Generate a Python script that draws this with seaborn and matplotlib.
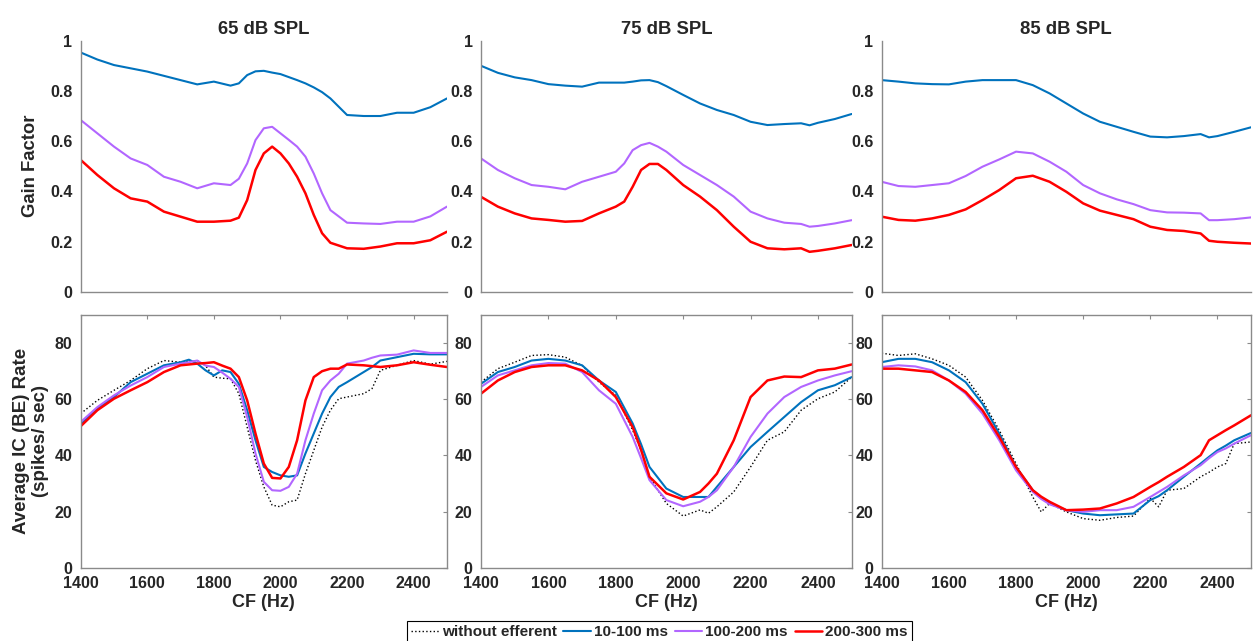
import matplotlib
matplotlib.use("Agg")
import matplotlib.pyplot as plt
from matplotlib.ticker import FuncFormatter
import seaborn as sns
import pandas as pd

# ---------------- data ----------------
series_labels = ["without efferent", "10-100 ms", "100-200 ms", "200-300 ms"]
levels = ["65 dB SPL", "75 dB SPL", "85 dB SPL"]

# Gain factor (top row)
cf_gain_65 = [1400, 1450, 1500, 1550, 1600, 1650, 1700, 1750, 1800, 1850, 1875, 1900, 1925,
              1950, 1975, 2000, 2025, 2050, 2075, 2100, 2125, 2150, 2200, 2250, 2300, 2350,
              2400, 2450, 2500]
gain_65_short = [0.953, 0.925, 0.903, 0.89, 0.877, 0.86, 0.843, 0.826, 0.837, 0.821, 0.83, 0.863,
                 0.878, 0.880, 0.873, 0.867, 0.855, 0.843, 0.83, 0.814, 0.795, 0.770, 0.704,
                 0.700, 0.700, 0.713, 0.713, 0.735, 0.77]
gain_65_mid = [0.684, 0.631, 0.578, 0.531, 0.505, 0.458, 0.438, 0.412, 0.432, 0.425, 0.45, 0.511,
               0.604, 0.651, 0.657, 0.631, 0.605, 0.578, 0.538, 0.471, 0.392, 0.325, 0.275,
               0.272, 0.270, 0.279, 0.279, 0.30, 0.339]
gain_65_long = [0.525, 0.465, 0.412, 0.372, 0.359, 0.319, 0.299, 0.279, 0.279, 0.283, 0.295, 0.365,
                0.485, 0.551, 0.578, 0.551, 0.511, 0.458, 0.392, 0.306, 0.233, 0.195, 0.173,
                0.171, 0.180, 0.193, 0.193, 0.205, 0.239]

cf_gain_75 = [1400, 1450, 1500, 1550, 1600, 1650, 1700, 1750, 1800, 1825, 1850, 1875, 1900, 1925,
              1950, 2000, 2050, 2100, 2150, 2200, 2250, 2300, 2350, 2375, 2400, 2450, 2500]
gain_75_short = [0.900, 0.872, 0.854, 0.843, 0.827, 0.821, 0.817, 0.833, 0.833, 0.833, 0.837,
                 0.842, 0.843, 0.835, 0.819, 0.784, 0.750, 0.724, 0.704, 0.677, 0.664, 0.668,
                 0.671, 0.663, 0.673, 0.688, 0.708]
gain_75_mid = [0.531, 0.485, 0.452, 0.425, 0.418, 0.408, 0.438, 0.458, 0.478, 0.511, 0.564, 0.584,
               0.593, 0.578, 0.558, 0.505, 0.465, 0.425, 0.379, 0.319, 0.292, 0.275, 0.270,
               0.259, 0.262, 0.272, 0.285]
gain_75_long = [0.378, 0.339, 0.312, 0.292, 0.286, 0.279, 0.282, 0.312, 0.339, 0.359, 0.418, 0.485,
                0.509, 0.509, 0.485, 0.425, 0.379, 0.325, 0.259, 0.199, 0.173, 0.169, 0.173,
                0.159, 0.163, 0.173, 0.186]

cf_gain_85 = [1400, 1450, 1500, 1550, 1600, 1650, 1700, 1750, 1800, 1850, 1900, 1950, 2000, 2050,
              2100, 2150, 2200, 2250, 2300, 2350, 2375, 2400, 2450, 2500]
gain_85_short = [0.843, 0.837, 0.830, 0.827, 0.826, 0.837, 0.843, 0.843, 0.843, 0.823, 0.790,
                 0.750, 0.710, 0.677, 0.657, 0.637, 0.618, 0.615, 0.620, 0.628, 0.615, 0.620,
                 0.637, 0.655]
gain_85_mid = [0.438, 0.421, 0.418, 0.425, 0.432, 0.461, 0.498, 0.527, 0.558, 0.551, 0.518, 0.478,
               0.425, 0.392, 0.368, 0.349, 0.325, 0.316, 0.315, 0.312, 0.285, 0.285, 0.289, 0.296]
gain_85_long = [0.299, 0.286, 0.283, 0.292, 0.306, 0.328, 0.365, 0.405, 0.452, 0.462, 0.438,
                0.398, 0.352, 0.323, 0.306, 0.289, 0.259, 0.246, 0.242, 0.232, 0.203, 0.199,
                0.195, 0.192]

# Average IC (BE) rate (bottom row), spikes/sec
cf_rate_65 = [1400, 1450, 1500, 1550, 1600, 1650, 1700, 1725, 1750, 1775, 1800, 1825, 1850, 1875,
              1900, 1925, 1950, 1975, 2000, 2025, 2050, 2075, 2100, 2125, 2150, 2175, 2200, 2250,
              2275, 2300, 2350, 2400, 2450, 2500]
rate_65_none = [54.9, 59.6, 63.2, 66.7, 70.9, 73.8, 73.2, 73.5, 73.8, 72.0, 67.9, 67.5, 67.3, 62.0,
                50.1, 38.2, 28.8, 22.3, 21.7, 23.5, 24.1, 33.5, 41.8, 50.1, 56.1, 60.2, 60.8, 62.0,
                63.8, 70.3, 72.1, 73.8, 72.5, 73.5]
rate_65_short = [51.3, 56.7, 60.8, 66.1, 69.1, 72.1, 73.2, 74.1, 72.7, 70.3, 68.5, 70.3, 69.7, 65.5,
                 56.1, 45.4, 35.9, 34.1, 32.9, 32.4, 32.9, 40.7, 47.8, 54.9, 60.8, 64.4, 66.1,
                 69.7, 71.5, 73.8, 75.0, 76.2, 76.0, 76.0]
rate_65_mid = [51.9, 57.2, 61.4, 64.9, 67.9, 71.5, 72.7, 73.2, 73.8, 72.0, 71.5, 69.5, 67.3, 64.4,
               53.7, 40.7, 30.6, 27.6, 27.4, 28.8, 33.5, 45.4, 54.9, 63.2, 66.7, 69.1, 72.7, 73.8,
               74.8, 75.6, 75.9, 77.4, 76.5, 76.5]
rate_65_long = [50.4, 56.1, 60.2, 63.2, 66.1, 69.7, 72.1, 72.4, 72.7, 72.9, 73.2, 72.0, 70.9, 67.9,
                59.6, 47.8, 37.1, 32.0, 31.8, 35.9, 45.4, 59.6, 67.9, 70.0, 70.9, 70.9, 72.4, 72.1,
                71.8, 71.5, 72.1, 73.2, 72.3, 71.5]

cf_rate_75 = [1400, 1450, 1500, 1550, 1600, 1650, 1700, 1750, 1800, 1850, 1875, 1900, 1950, 2000,
              2050, 2075, 2100, 2150, 2200, 2250, 2300, 2350, 2400, 2450, 2500]
rate_75_none = [66.1, 70.9, 73.2, 75.6, 75.9, 75.0, 72.0, 66.1, 61.4, 49.0, 41.8, 32.4, 22.9, 18.4,
                20.6, 19.4, 21.7, 27.0, 35.9, 45.4, 48.4, 56.1, 60.2, 62.6, 67.9]
rate_75_short = [65.5, 69.7, 71.5, 73.8, 74.4, 73.8, 72.1, 66.7, 62.6, 51.4, 44.0, 35.9, 28.2, 25.2,
                 25.2, 25.2, 28.8, 35.9, 43.0, 48.4, 53.7, 59.0, 63.2, 65.0, 67.9]
rate_75_mid = [64.4, 68.5, 70.3, 72.1, 72.9, 72.7, 69.7, 63.2, 58.4, 46.6, 39.0, 31.2, 24.1, 21.9,
               23.5, 25.2, 27.6, 35.9, 46.6, 54.9, 60.8, 64.4, 66.7, 68.5, 70.0]
rate_75_long = [62.0, 66.7, 69.7, 71.5, 72.1, 72.1, 70.3, 66.7, 60.8, 50.1, 42.0, 32.4, 26.5, 24.3,
                27.0, 30.0, 33.5, 45.4, 60.8, 66.7, 68.1, 67.9, 70.3, 70.9, 72.4]

cf_rate_85 = [1400, 1450, 1500, 1550, 1600, 1650, 1700, 1750, 1800, 1850, 1875, 1900, 1950, 2000,
              2050, 2100, 2150, 2200, 2225, 2250, 2300, 2350, 2375, 2400, 2425, 2450, 2500]
rate_85_none = [76.4, 75.6, 76.2, 74.4, 72.1, 67.9, 59.6, 49.0, 37.1, 25.2, 19.9, 22.9, 19.9, 17.5,
                16.9, 17.9, 18.4, 24.7, 21.7, 27.6, 28.2, 32.4, 34.0, 35.9, 37.1, 44.2, 44.8]
rate_85_short = [73.2, 74.4, 74.4, 73.2, 70.3, 66.1, 58.4, 47.8, 35.9, 27.6, 25.0, 22.9, 20.5, 19.3,
                 18.7, 19.0, 19.3, 24.1, 25.5, 27.6, 32.4, 37.1, 39.5, 41.8, 43.5, 45.4, 48.0]
rate_85_mid = [71.5, 72.1, 71.7, 70.3, 66.7, 62.0, 54.9, 45.4, 34.7, 27.0, 24.5, 22.6, 20.5, 19.9,
               20.5, 20.5, 21.7, 25.2, 27.0, 28.8, 32.9, 36.5, 39.0, 41.2, 42.5, 44.2, 47.2]
rate_85_long = [70.9, 70.9, 70.3, 69.7, 66.7, 62.6, 56.1, 46.6, 35.9, 27.6, 25.3, 23.5, 20.5, 20.7,
                21.1, 22.9, 25.2, 28.8, 30.5, 32.4, 35.9, 40.1, 45.4, 47.2, 49.0, 50.7, 54.3]

xticks = [1400, 1600, 1800, 2000, 2200, 2400]
gain_ticks = [0, 0.2, 0.4, 0.6, 0.8, 1]
rate_ticks = [0, 20, 40, 60, 80]

# ---------------- style ----------------
sns.set_theme(style="white")
plt.rcParams["font.family"] = ["Liberation Sans", "DejaVu Sans"]
plt.rcParams["font.weight"] = "bold"

palette = {
    "without efferent": "#000000",
    "10-100 ms": "#0072BD",
    "100-200 ms": "#B266FF",
    "200-300 ms": "#FF0000",
}
widths = {"without efferent": 1.0, "10-100 ms": 1.5, "100-200 ms": 1.5, "200-300 ms": 1.8}
spine_col = "#8a8a8a"
text_col = "#262626"

fig = plt.figure(figsize=(12.53, 6.41), dpi=100)

lefts = [0.0644, 0.3839, 0.7037]
widths_ax = [0.2923, 0.2958, 0.2947]
top_row = (0.5449, 0.3916)
bot_row = (0.1143, 0.3942)

gain_sets = [
    (cf_gain_65, gain_65_short, gain_65_mid, gain_65_long),
    (cf_gain_75, gain_75_short, gain_75_mid, gain_75_long),
    (cf_gain_85, gain_85_short, gain_85_mid, gain_85_long),
]
rate_sets = [
    (cf_rate_65, rate_65_none, rate_65_short, rate_65_mid, rate_65_long),
    (cf_rate_75, rate_75_none, rate_75_short, rate_75_mid, rate_75_long),
    (cf_rate_85, rate_85_none, rate_85_short, rate_85_mid, rate_85_long),
]


def style_ticks(ax):
    ax.tick_params(axis="both", direction="in", length=3, width=0.8, color=spine_col,
                   labelsize=11.5, labelcolor=text_col, pad=6)
    for lab in ax.get_xticklabels() + ax.get_yticklabels():
        lab.set_fontweight("bold")


bottom_axes = []
for i in range(3):
    # gain factor panel
    cf, g_s, g_m, g_l = gain_sets[i]
    df = pd.DataFrame({
        "CF": cf * 3,
        "gain": g_s + g_m + g_l,
        "window": [series_labels[1]] * len(cf) + [series_labels[2]] * len(cf) + [series_labels[3]] * len(cf),
    })
    ax = fig.add_axes([lefts[i], top_row[0], widths_ax[i], top_row[1]])
    for lab in series_labels[1:]:
        sub = df[df["window"] == lab]
        sns.lineplot(data=sub, x="CF", y="gain", color=palette[lab], lw=widths[lab], ax=ax)
    ax.set_xlim(1400, 2500)
    ax.set_ylim(0, 1)
    ax.set_xticks(xticks)
    ax.set_xticklabels([])
    ax.set_yticks(gain_ticks)
    ax.yaxis.set_major_formatter(FuncFormatter(lambda v, p: f"{v:g}"))
    ax.set_xlabel("")
    ax.set_ylabel("Gain Factor" if i == 0 else "", fontsize=13.3, fontweight="bold",
                  color=text_col, labelpad=8)
    ax.set_title(levels[i], fontsize=13.3, fontweight="bold", color=text_col, pad=5)
    for s in ["top", "right"]:
        ax.spines[s].set_visible(False)
    for s in ["left", "bottom"]:
        ax.spines[s].set_color(spine_col)
        ax.spines[s].set_linewidth(1.0)
    style_ticks(ax)

    # rate panel
    cf, r_n, r_s, r_m, r_l = rate_sets[i]
    dfr = pd.DataFrame({
        "CF": cf * 4,
        "rate": r_n + r_s + r_m + r_l,
        "window": sum([[lab] * len(cf) for lab in series_labels], []),
    })
    axb = fig.add_axes([lefts[i], bot_row[0], widths_ax[i], bot_row[1]])
    for lab in series_labels:
        sub = dfr[dfr["window"] == lab]
        sns.lineplot(data=sub, x="CF", y="rate", color=palette[lab], lw=widths[lab],
                     linestyle=":" if lab == "without efferent" else "-", label=lab, ax=axb)
    axb.set_xlim(1400, 2500)
    axb.set_ylim(0, 90)
    axb.set_xticks(xticks)
    axb.set_yticks(rate_ticks)
    axb.set_xlabel("CF (Hz)", fontsize=13, fontweight="bold", color=text_col, labelpad=2)
    axb.set_ylabel("Average IC (BE) Rate\n(spikes/ sec)" if i == 0 else "", fontsize=13.5,
                   fontweight="bold", color=text_col, linespacing=1.15, labelpad=4)
    for s in axb.spines.values():
        s.set_visible(True)
        s.set_color(spine_col)
        s.set_linewidth(1.0)
    axb.tick_params(top=True, right=True)
    style_ticks(axb)
    axb.get_legend().remove()
    bottom_axes.append(axb)

handles, labels = bottom_axes[0].get_legend_handles_labels()
leg = fig.legend(handles, labels, loc="upper center", bbox_to_anchor=(0.5263, 0.031), ncol=4,
                 frameon=True, fancybox=False, edgecolor="black", framealpha=1,
                 prop=dict(size=11, weight="bold"), handlelength=1.8, handletextpad=0.2,
                 columnspacing=0.45, borderpad=0.25, borderaxespad=0)
leg.get_frame().set_linewidth(0.8)

fig.savefig("out.png", dpi=100)
